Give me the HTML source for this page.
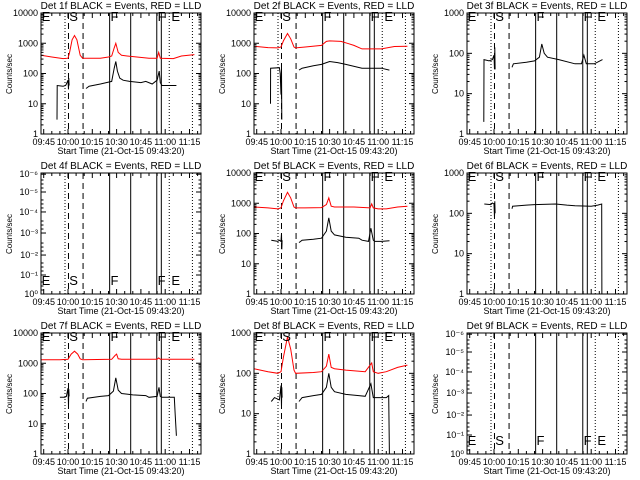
<!DOCTYPE html>
<html><head><meta charset="utf-8"><style>
body{margin:0;background:#fff;}
svg{display:block;font-family:"Liberation Sans",sans-serif;}
</style></head><body>
<svg id="fig" width="640" height="480" xmlns="http://www.w3.org/2000/svg"></svg>
<script>
// panel titles / detectors
const dets = ["1f","2f","3f","4f","5f","6f","7f","8f","9f"];
const decades = [4,4,3,0,4,3,4,3,0];
const lettersTop = [true,true,true,false,true,true,true,true,false];
// event marker times (minutes after 10:00)
const dottedTimes = [-1.85, 62.5, 76.8];
const dashedTimes = [0.3, 9.3];
const solidTimes = [25.7, 38.7, 54.8, 57.6];
const letterLabels = ["E","S","F","F","E"];
const letterTimes = [-16.3, 0.8, 26.2, 55.3, 63.8];
const xTickTimes = [-15,0,15,30,45,60,75];
const xTickLabels = ["09:45","10:00","10:15","10:30","10:45","11:00","11:15"];
const emptyYLabels = ["10⁰","10⁻¹","10⁻²","10⁻³","10⁻⁴","10⁻⁵","10⁻⁶"];
const emptyYFrac = [0,0.157,0.322,0.504,0.678,0.843,0.99];
// series: [t, value]; null = gap
const black1 = [[-6.8,3],[-6.7,40],[-3,38],[-1.5,40],[-1,45],[0,60],[0.3,30],[0.5,70],[0.7,40],null,[11.1,32],[13,38],[20,45],[25,52],[27,55],[28.5,150],[29.5,250],[30.5,120],[32,70],[34,60],[38,55],[45,50],[48,55],[52,45],[55,60],[56.3,120],[57,50],[58,40],[62,40],[66.9,40]];
const red1 = [[-16.7,400],[-10,350],[-3,310],[0,320],[1,500],[2.5,1300],[4,1800],[5.5,1300],[7.5,400],[9,320],[20,320],[25,350],[27,380],[28.5,700],[29.5,1000],[31,500],[33,400],[38,370],[50,320],[55,320],[56,500],[57,320],[65,310],[70,380],[78,420]];
const black2 = [[-6.5,10],[-6.4,150],[-1,155],[-0.5,100],[0,20],[0.3,150],[0.5,3],null,[11.1,130],[13,150],[20,180],[25,200],[30,250],[35,230],[40,200],[50,150],[60,150],[62,150],[66.9,130]];
const red2 = [[-16.7,800],[-8,720],[-2,700],[0,750],[1.5,1200],[4,2100],[6,1400],[8,750],[9,700],[15,750],[25,850],[28,1150],[30,1200],[37,1150],[41,1000],[45,850],[50,650],[62,650],[70,780],[78,800]];
const black3 = [[-6.3,2],[-6.2,70],[-3,65],[-1,70],[0,90],[0.3,40],[0.5,140],[0.7,40],null,[11.1,45],[12,55],[20,60],[25,65],[28,80],[29.5,170],[31,100],[33,80],[40,70],[50,55],[54,55],[55.5,90],[57,55],[59,55],[62,55],[67,70]];
const black5 = [[-6,60],[-2,55],[-1,60],[0,55],[0.3,100],[0.5,30],[0.7,60],null,[11.1,50],[13,60],[20,65],[25,70],[28,120],[29.5,330],[31,120],[33,90],[40,75],[48,70],[50,60],[54,55],[55.5,150],[57,60],[58,55],[62,55],[67,58]];
const red5 = [[-16.7,750],[-8,700],[-2,650],[0,700],[1.5,1200],[4,2300],[6,1500],[8,750],[9,700],[15,700],[25,720],[28,900],[29.5,1500],[31,800],[33,750],[45,750],[55,700],[56,950],[57,700],[60,650],[65,650],[72,750],[78,800]];
const black6 = [[-6,170],[-2,165],[-1,180],[0,170],[0.3,80],[0.5,200],[0.7,100],null,[11.1,130],[11.5,150],[20,160],[25,165],[38,170],[45,160],[50,155],[60,150],[64,160],[66.5,170],[66.6,0.5]];
const black7 = [[-5,75],[-2,75],[-1,80],[0,150],[0.3,40],[0.5,140],[0.7,80],null,[11.1,55],[12,70],[20,80],[25,85],[28,120],[29.5,330],[31,130],[33,100],[40,90],[48,85],[50,75],[55,80],[56.2,160],[57,80],[58,75],[62,75],[65.6,75],[66.2,20],[66.9,4]];
const red7 = [[-16.7,1300],[-5,1300],[0,1350],[2,2000],[4,2500],[6,2000],[7.5,1400],[9,1300],[27,1350],[29,1800],[30,2000],[31,1400],[33,1350],[55,1350],[56,1500],[57,1350],[78,1350]];
const black8 = [[-6,20],[-4,25],[-1,22],[0,50],[0.3,15],[0.5,45],[0.7,25],null,[11.1,20],[13,25],[20,28],[25,30],[28,45],[29.5,100],[31,45],[33,35],[40,30],[48,28],[52,27],[55.5,55],[57,25],[60,25],[65,25],[66.5,28],[66.9,1]];
const red8 = [[-16.7,130],[-8,110],[-2,100],[0,110],[1.5,250],[4,800],[6,400],[8,120],[9,100],[20,105],[25,110],[28,150],[29.5,300],[31,140],[33,130],[40,120],[52,110],[56,180],[57,110],[60,100],[65,110],[72,140],[78,160]];
const blackSeries = [black1,black2,black3,null,black5,black6,black7,black8,null];
const redSeries = [red1,red2,null,null,red5,null,red7,red8,null];

const NS="http://www.w3.org/2000/svg";
const fig=document.getElementById('fig');
const L=41,R=201,T=13,B=134,T0=-16.67,T1=82.1;
function mk(tag,attrs,parent){const e=document.createElementNS(NS,tag);for(const k in attrs)e.setAttribute(k,attrs[k]);(parent||fig).appendChild(e);return e;}
function xs(t){return L+(t-T0)*(R-L)/(T1-T0);}
function makeY(dec){return v=>B-Math.log10(Math.max(v,1e-3))*(B-T)/dec;}

for(let p=0;p<9;p++){
  const ox=(p%3)*213, oy=Math.floor(p/3)*160;
  const g=mk('g',{transform:`translate(${ox},${oy})`});
  
  
  const dec=decades[p]; const ys=dec?makeY(dec):null;
  const cid='c'+p;
  const cp=mk('clipPath',{id:cid},g); mk('rect',{x:L,y:T,width:R-L,height:B-T},cp);
  const vl=mk('g',{stroke:'#000','stroke-width':1},g);
  
  
  dottedTimes.forEach(t=>mk('line',{x1:xs(t),x2:xs(t),y1:T,y2:B,'stroke-dasharray':'1,2'},vl));
  dashedTimes.forEach(t=>mk('line',{x1:xs(t),x2:xs(t),y1:T,y2:B,'stroke-dasharray':'6,4'},vl));
  solidTimes.forEach(t=>mk('line',{x1:xs(t),x2:xs(t),y1:T,y2:B},vl));
  [[redSeries[p],'#f00','red-lld-series'],[blackSeries[p],'#000','black-events-series']].forEach(([s,c,n])=>{
    if(!s||!ys)return;
    let d='',pen=false;
    s.forEach(pt=>{if(!pt){pen=false;return;}d+=(pen?'L':'M')+xs(pt[0]).toFixed(1)+' '+ys(pt[1]).toFixed(1);pen=true;});
    const path=mk('path',{d:d,fill:'none',stroke:c,'stroke-width':1,'clip-path':`url(#${cid})`},g);
    
    
  });
  letterLabels.forEach((s,i)=>{
    const tx=mk('text',{x:xs(letterTimes[i]),y:lettersTop[p]?21:125,'font-size':13,fill:'#000'},g);
    tx.textContent=s;
    
    
  });
  const fr=mk('rect',{x:L,y:T,width:R-L,height:B-T,fill:'none',stroke:'#000','stroke-width':1},g);
  
  
  for(let t=-15;t<=80;t+=5){const x=xs(t),len=(t%15===0)?5:3;
    mk('line',{x1:x,x2:x,y1:B,y2:B-len,stroke:'#000'},g);mk('line',{x1:x,x2:x,y1:T,y2:T+len,stroke:'#000'},g);}
  xTickTimes.forEach((t,i)=>{const tx=mk('text',{x:xs(t),y:145,'font-size':9,'text-anchor':'middle'},g);tx.textContent=xTickLabels[i];
    
    });
  const xt=mk('text',{x:121,y:154,'font-size':9,'text-anchor':'middle'},g);xt.textContent='Start Time (21-Oct-15 09:43:20)';
  
  
  const yt=mk('text',{x:0,y:0,'font-size':8,'text-anchor':'middle',transform:'translate(12,74) rotate(-90)'},g);yt.textContent='Counts/sec';
  
  
  const ti=mk('text',{x:121,y:9,'font-size':10,'text-anchor':'middle'},g);ti.textContent='Det '+dets[p]+' BLACK = Events, RED = LLD';
  
  
  if(dec){
    for(let k=0;k<=dec;k++){const y=ys(Math.pow(10,k));
      mk('line',{x1:L,x2:L+5,y1:y,y2:y,stroke:'#000'},g);mk('line',{x1:R,x2:R-5,y1:y,y2:y,stroke:'#000'},g);
      const tx=mk('text',{x:38,y:y+3,'font-size':9,'text-anchor':'end'},g);tx.textContent=String(Math.pow(10,k));
      
      
      if(k<dec)for(let m=2;m<10;m++){const yy=ys(m*Math.pow(10,k));
        mk('line',{x1:L,x2:L+2.5,y1:yy,y2:yy,stroke:'#000'},g);mk('line',{x1:R,x2:R-2.5,y1:yy,y2:yy,stroke:'#000'},g);}
    }
  } else {
    emptyYLabels.forEach((s,i)=>{const y=B-emptyYFrac[i]*(B-T);
      mk('line',{x1:L,x2:L+5,y1:y,y2:y,stroke:'#000'},g);mk('line',{x1:R,x2:R-5,y1:y,y2:y,stroke:'#000'},g);
      for(let m=1;m<4;m++){const yy=y-m*4;if(yy>T){mk('line',{x1:L,x2:L+2.5,y1:yy,y2:yy,stroke:'#000'},g);mk('line',{x1:R,x2:R-2.5,y1:yy,y2:yy,stroke:'#000'},g);}}
      const tx=mk('text',{x:38,y:y+3,'font-size':9,'text-anchor':'end'},g);tx.textContent=s;
      
      });
  }
}
</script>
</body></html>
